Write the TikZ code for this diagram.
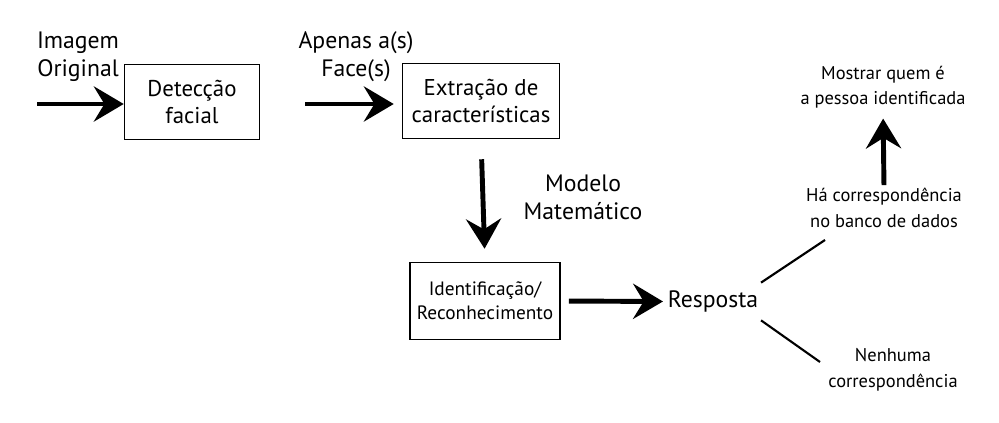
\documentclass[tikz,border=0pt]{standalone}
\usepackage{fontspec}
\setmainfont{PT Sans}
\usetikzlibrary{positioning}
\usetikzlibrary{arrows.meta}
\tikzset{
  caixa/.style={draw, line width=0.9pt, align=center, inner sep=0pt, minimum height=1.5cm},
  grande/.style={align=center, inner sep=0pt, font=\fontsize{13.5}{16}\selectfont},
  pequeno/.style={align=center, inner sep=0pt, font=\fontsize{10.5}{14.5}\selectfont},
  seta/.style={line width=2.8pt, -{Stealth[length=17pt,width=20pt,inset=6pt]}},
  linha/.style={line width=1.2pt},
}
\begin{document}
\begin{tikzpicture}[x=0.02cm,y=-0.02cm]
  \useasboundingbox (0,0) rectangle (999,422);

    % Define nodes
    \node[caixa, minimum width=2.7cm, font=\fontsize{13}{15}\selectfont]  (det) at (192,102) {Detecção\\facial};
    \node[caixa, minimum width=3.14cm, font=\fontsize{13}{15}\selectfont] (ext) at (481,101) {Extração de\\características};
    \node[caixa, minimum width=3.0cm, minimum height=1.54cm, font=\fontsize{11}{13.5}\selectfont] (idf) at (485,301) {Identificação/\\Reconhecimento};
    \node[grande, minimum height=0.74cm, inner xsep=0.05cm] (resp) at (713,301.5) {Resposta};
    \node[pequeno] (ha)  at (884,208) {Há correspondência\\no banco de dados};
    \node[pequeno] (mos) at (883,87)  {Mostrar quem é\\a pessoa identificada};
    \node[pequeno] (nen) at (893,370) {Nenhuma\\correspondência};

    \node[grande] (img) at (78,57)  {Imagem\\Original};
    \node[grande] (ape) at (356,57) {Apenas a(s)\\Face(s)};
    \node[grande] (mod) at (583,197) {Modelo\\Matemático};

    \coordinate (ent) at (37,104);
    \coordinate (sim) at (825,240);
    \coordinate (nao) at (820,362);

    % Connect the nodes
    \draw[seta] (ent) -- (det.west |- ent); %
    \draw[seta, shorten <=0.9cm, shorten >=0.16cm] (det.east |- ent) -- (ext.west |- ent); %
    \draw[seta, shorten <=0.4cm, shorten >=0.26cm] (ext.south) -- (idf.north); %
    \draw[seta, shorten <=0.16cm, shorten >=0.04cm] (idf.east) -- (resp.west); %
    \draw[linha] (resp.north east) -- (sim); %
    \draw[linha] (resp.south east) -- (nao); %
    \draw[seta, shorten <=0.06cm, shorten >=0.2cm] (ha.north) -- (mos.south); %
  \end{tikzpicture}
\end{document}
